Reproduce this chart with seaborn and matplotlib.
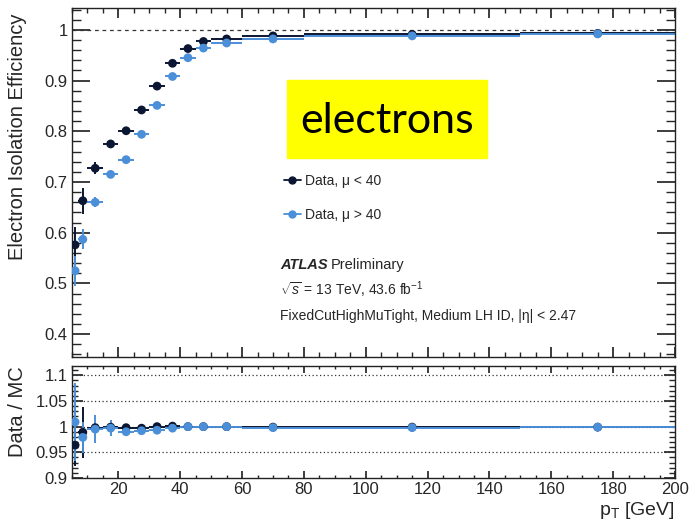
import numpy as np
import pandas as pd
import matplotlib
matplotlib.use("Agg")
import matplotlib.pyplot as plt
import matplotlib.ticker as mticker
from matplotlib.lines import Line2D
from matplotlib.patches import Rectangle
import seaborn as sns

# ── data ──────────────────────────────────────────────────────────────────────
pt_lo = [5, 7, 10, 15, 20, 25, 30, 35, 40, 45, 50, 60, 80, 150]
pt_hi = [7, 10, 15, 20, 25, 30, 35, 40, 45, 50, 60, 80, 150, 200]

eff_low_mu  = [0.576, 0.663, 0.727, 0.775, 0.801, 0.842, 0.889, 0.934, 0.963, 0.977, 0.982, 0.988, 0.991, 0.993]
eff_high_mu = [0.525, 0.587, 0.660, 0.715, 0.744, 0.794, 0.851, 0.908, 0.945, 0.964, 0.974, 0.982, 0.988, 0.992]
err_low_mu  = [0.036, 0.026, 0.012, 0.006, 0.005, 0.004, 0.004, 0.003, 0.003, 0.002, 0.002, 0.002, 0.002, 0.002]
err_high_mu = [0.030, 0.020, 0.010, 0.006, 0.005, 0.004, 0.004, 0.003, 0.003, 0.002, 0.002, 0.002, 0.002, 0.002]

ratio_low_mu  = [0.964, 0.989, 0.998, 0.999, 0.998, 0.997, 1.000, 1.001, 1.000, 1.000, 1.000, 0.999, 0.999, 0.999]
ratio_high_mu = [1.009, 0.979, 0.995, 0.997, 0.990, 0.992, 0.993, 0.997, 1.000, 1.000, 1.000, 0.998, 0.998, 0.999]
rerr_low_mu   = [0.040, 0.050, 0.010, 0.005, 0.004, 0.003, 0.003, 0.003, 0.002, 0.002, 0.002, 0.002, 0.002, 0.002]
rerr_high_mu  = [0.075, 0.030, 0.027, 0.015, 0.006, 0.005, 0.004, 0.003, 0.003, 0.002, 0.002, 0.002, 0.002, 0.002]

labels = ["Data, \u03bc < 40", "Data, \u03bc > 40"]
cores = {labels[0]: "#0b1633", labels[1]: "#4b8fd8"}

# ── visual config ────────────────────────────────────────────────────────────
sns.set_theme(style="ticks")
plt.rcParams.update({
    "font.family": ["Liberation Sans", "DejaVu Sans"],
    "mathtext.fontset": "custom",
    "mathtext.rm": "Liberation Sans",
    "mathtext.it": "Liberation Sans:italic",
    "xtick.direction": "in",
    "ytick.direction": "in",
    "xtick.top": True,
    "ytick.right": True,
    "axes.linewidth": 1.0,
    "axes.edgecolor": "#222222",
})

centers = [(a + b) / 2 for a, b in zip(pt_lo, pt_hi)]
half_w = [(b - a) / 2 for a, b in zip(pt_lo, pt_hi)]

df = pd.DataFrame({
    "pt": centers * 2,
    "xerr": half_w * 2,
    "eff": eff_low_mu + eff_high_mu,
    "err": err_low_mu + err_high_mu,
    "ratio": ratio_low_mu + ratio_high_mu,
    "rerr": rerr_low_mu + rerr_high_mu,
    "serie": [labels[0]] * len(centers) + [labels[1]] * len(centers),
})

fig = plt.figure(figsize=(6.9, 5.25), dpi=100)
ax = fig.add_axes([72 / 690, 1 - 357 / 525, 603 / 690, 349 / 525])
axr = fig.add_axes([72 / 690, 1 - 478 / 525, 603 / 690, 112 / 525])

# ── main panel ───────────────────────────────────────────────────────────────
ax.axhline(1.0, color="#333333", lw=0.9, ls=(0, (3, 3)), zorder=1)
for lab in labels:
    d = df[df["serie"] == lab]
    ax.errorbar(d["pt"], d["eff"], xerr=d["xerr"], yerr=d["err"], fmt="none",
                ecolor=cores[lab], elinewidth=1.4, zorder=2)
sns.scatterplot(data=df, x="pt", y="eff", hue="serie", palette=cores, s=40,
                edgecolor="none", legend=False, ax=ax, zorder=3)

ax.set_xlim(5, 200)
ax.set_ylim(0.355, 1.043)
ax.yaxis.set_major_locator(mticker.MultipleLocator(0.1))
ax.yaxis.set_minor_locator(mticker.MultipleLocator(0.02))
ax.xaxis.set_major_locator(mticker.MultipleLocator(20))
ax.xaxis.set_minor_locator(mticker.MultipleLocator(5))
ax.yaxis.set_major_formatter(mticker.FuncFormatter(lambda v, _: f"{v:g}"))
ax.tick_params(axis="x", which="major", length=7, labelbottom=False)
ax.tick_params(axis="x", which="minor", length=3.5)
ax.tick_params(axis="y", which="major", length=13, labelsize=12, pad=3)
ax.tick_params(axis="y", which="minor", length=6.5)
ax.set_xlabel("")
ax.set_ylabel("Electron Isolation Efficiency", fontsize=14.5, loc="top")
ax.yaxis.set_label_coords(27 / 690, 1 - 14 / 525, transform=fig.transFigure)

handles = [Line2D([0], [0], color=cores[l], marker="o", markersize=5, lw=1.3) for l in labels]
ax.legend(handles, labels, loc="upper left", bbox_to_anchor=(284 / 690, 1 - 174 / 525),
          bbox_transform=fig.transFigure, frameon=False, fontsize=10, borderpad=0,
          borderaxespad=0, handlelength=1.2, handletextpad=0.3, labelspacing=1.45)

fig.text(280 / 690, 1 - 265 / 525, "ATLAS", fontsize=10.5, va="center", ha="left",
         fontweight="bold", style="italic")
fig.text(331 / 690, 1 - 265 / 525, "Preliminary", fontsize=10.5, va="center", ha="left")
fig.text(280 / 690, 1 - 290 / 525, r"$\sqrt{s}$ = 13 TeV, 43.6 fb$^{-1}$",
         fontsize=10, va="center", ha="left")
fig.text(280 / 690, 1 - 316 / 525, "FixedCutHighMuTight, Medium LH ID, |\u03b7| < 2.47",
         fontsize=10, va="center", ha="left")

# yellow "electrons" tag
fig.add_artist(Rectangle((287 / 690, 1 - 158 / 525), 200 / 690, 78 / 525,
                         transform=fig.transFigure, color="#ffff00", zorder=5))
fig.text(387 / 690, 1 - 121 / 525, "electrons", fontsize=31, family="Lato",
         ha="center", va="center", color="black", zorder=6)

# ── ratio panel ──────────────────────────────────────────────────────────────
for yv in [0.95, 1.0, 1.05, 1.1]:
    axr.axhline(yv, color="#333333", lw=0.9, ls=(0, (1, 2)), zorder=1)
for lab in labels:
    d = df[df["serie"] == lab]
    axr.errorbar(d["pt"], d["ratio"], xerr=d["xerr"], yerr=d["rerr"], fmt="none",
                 ecolor=cores[lab], elinewidth=1.4, zorder=2)
sns.scatterplot(data=df, x="pt", y="ratio", hue="serie", palette=cores, s=40,
                edgecolor="none", legend=False, ax=axr, zorder=3)

axr.set_xlim(5, 200)
axr.set_ylim(0.9, 1.118)
axr.yaxis.set_major_locator(mticker.MultipleLocator(0.05))
axr.yaxis.set_minor_locator(mticker.MultipleLocator(0.01))
axr.xaxis.set_major_locator(mticker.MultipleLocator(20))
axr.xaxis.set_minor_locator(mticker.MultipleLocator(5))
axr.yaxis.set_major_formatter(mticker.FuncFormatter(lambda v, _: f"{v:g}"))
axr.tick_params(axis="x", which="major", length=5, labelsize=12, pad=3)
axr.tick_params(axis="x", which="minor", length=2.5)
axr.tick_params(axis="y", which="major", length=8, labelsize=12, pad=3)
axr.tick_params(axis="y", which="minor", length=4)
axr.set_ylabel("Data / MC", fontsize=14.5, loc="top")
axr.yaxis.set_label_coords(27 / 690, 1 - 366 / 525, transform=fig.transFigure)
axr.set_xlabel(r"p$_{\mathregular{T}}$ [GeV]", fontsize=14, loc="right", labelpad=2)

plt.savefig("out.png", dpi=100)
